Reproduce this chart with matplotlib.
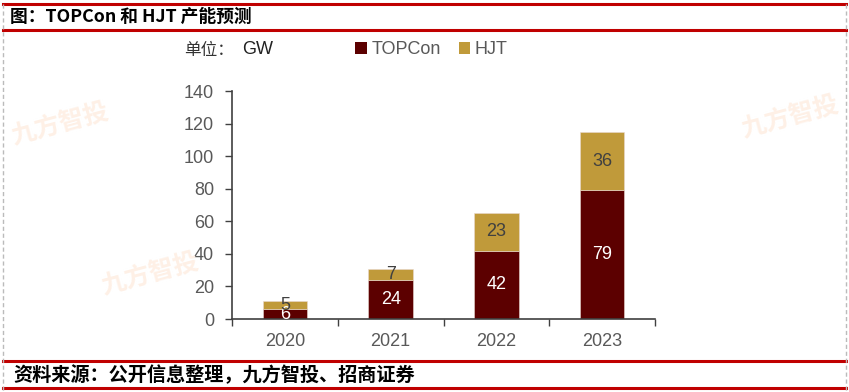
import matplotlib
matplotlib.use("Agg")
import matplotlib.pyplot as plt
from matplotlib.lines import Line2D
from matplotlib.patches import Patch

plt.rcParams['font.family'] = ['Liberation Sans', 'Noto Sans CJK SC', 'DejaVu Sans']

years = ["2020", "2021", "2022", "2023"]
topcon = [6, 24, 42, 79]
hjt = [5, 7, 23, 36]
yticks = [0, 20, 40, 60, 80, 100, 120, 140]

C_TOP = "#5C0000"
C_HJT = "#C09A3A"
GRAY = "#595959"
RED = "#C00000"

W, H = 849, 392
fig = plt.figure(figsize=(W / 100, H / 100), dpi=100)

def fx(px):
    return px / W

def fy(py):
    return 1 - py / H

# faint watermarks
for (px, py) in [(60, 125), (150, 275), (790, 118)]:
    fig.text(fx(px), fy(py), "九方智投", fontsize=18, fontweight="bold", color="#FEF0E6",
             rotation=15, ha="center", va="center", family=["Noto Sans CJK SC"], zorder=0)

# axes: x from 232 to 655, y from 319 (0) to 91 (140)
ax = fig.add_axes([fx(232), fy(319), fx(655) - fx(232), fy(91) - fy(319)])
ax.patch.set_alpha(0)
x = list(range(len(years)))
ax.bar(x, topcon, width=0.42, color=C_TOP, edgecolor="#E8D8D0", linewidth=0.4, zorder=2)
ax.bar(x, hjt, width=0.42, bottom=topcon, color=C_HJT, edgecolor="#E8D8D0", linewidth=0.4, zorder=2)

for i in x:
    ax.text(i, topcon[i] / 2, str(topcon[i]), ha="center", va="center",
            color="white", fontsize=13, zorder=3)
    ax.text(i, topcon[i] + hjt[i] / 2, str(hjt[i]), ha="center", va="center",
            color="#404040", fontsize=13, zorder=4)

ax.set_xlim(-0.5, len(years) - 0.5)
ax.set_ylim(0, 140)
ax.set_yticks(yticks)
ax.set_yticklabels([str(v) for v in yticks])
ax.set_xticks(x)
ax.set_xticklabels(years)
ax.set_xticks([i - 0.5 for i in range(len(years) + 1)], minor=True)
ax.tick_params(axis="x", which="major", length=0, pad=10, labelsize=13, labelcolor=GRAY)
ax.tick_params(axis="x", which="minor", length=5, width=1, direction="out", color="#404040")
ax.tick_params(axis="y", length=5, width=1, direction="out", color="#404040",
               labelsize=13, labelcolor=GRAY, pad=8)
for s in ["top", "right"]:
    ax.spines[s].set_visible(False)
for s in ["left", "bottom"]:
    ax.spines[s].set_color("#404040")
    ax.spines[s].set_linewidth(1.2)

# unit and legend
fig.text(fx(184), fy(50), "单位：", fontsize=12, color="#333333", va="center",
         family=["Noto Sans CJK SC"])
fig.text(fx(242), fy(50), "GW", fontsize=13, color="#222222", va="center")
handles = [Patch(facecolor=C_TOP, label="TOPCon"), Patch(facecolor=C_HJT, label="HJT")]
leg = fig.legend(handles=handles, loc="center left", bbox_to_anchor=(fx(355), fy(50)),
                 ncol=2, frameon=False, fontsize=13, handlelength=0.65, handleheight=0.65,
                 handletextpad=0.25, columnspacing=1.0, borderaxespad=0, borderpad=0)
for t in leg.get_texts():
    t.set_color(GRAY)

# frame lines
def hline(py, lw=2.2, color=RED):
    fig.add_artist(Line2D([fx(3), fx(846)], [fy(py), fy(py)], color=color, lw=lw))

hline(3.5)
hline(29.5)
hline(361)
hline(388)
for px in (3, 846):
    fig.add_artist(Line2D([fx(px), fx(px)], [fy(4), fy(392)], color="#BBBBBB", lw=1,
                          linestyle=(0, (3, 2))))

# title and source
fig.text(fx(10), fy(16.5), "图：TOPCon 和 HJT 产能预测", fontsize=12.8, fontweight="bold",
         va="center", color="black", family=["Noto Sans CJK SC", "DejaVu Sans"])
fig.text(fx(13), fy(375), "资料来源：公开信息整理，九方智投、招商证券", fontsize=13.8, fontweight="bold",
         va="center", color="black", family=["Noto Sans CJK SC", "DejaVu Sans"])

fig.savefig("out.png", dpi=100)
